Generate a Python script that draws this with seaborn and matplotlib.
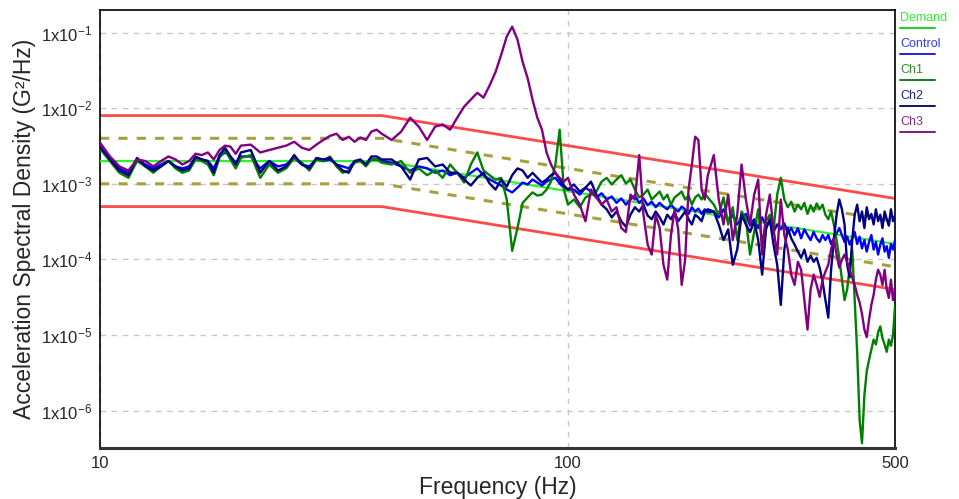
import pandas as pd
import matplotlib
matplotlib.use('Agg')
import matplotlib.pyplot as plt
from matplotlib.lines import Line2D
from matplotlib.ticker import FixedLocator, NullLocator, LogLocator, NullFormatter
import seaborn as sns

# --- Data ---
# Frequency lines shared by all measured channels (Hz)
freq_hz = [10, 10.5, 11, 11.5, 12, 12.5, 13, 13.5, 14, 14.5, 15, 15.5, 16, 16.5, 17, 17.5, 18, 18.5, 19, 19.5, 20,
           21, 22, 23, 24, 25, 26, 27, 28, 29, 30, 31, 32, 33, 34, 35, 36, 37, 38, 39, 40,
           42, 44, 46, 48, 50, 52, 54, 56, 58, 60, 62, 64, 66, 68, 70, 72, 74, 76, 78, 80,
           82, 84, 86, 88, 90, 92, 94, 96, 98, 100,
           103, 106, 109, 112, 115, 118, 121, 124, 127, 130, 133, 136, 139, 142, 145, 148, 151,
           154, 157, 160, 163, 166, 169, 172, 175, 178, 181, 184, 187, 190, 193, 196, 199,
           205, 210, 215, 220, 225, 230, 235, 240, 245, 250, 255, 260, 265, 270, 275, 280, 285, 290,
           295, 300, 305, 310, 315, 320, 325, 330, 335, 340, 345, 350, 355, 360, 365, 370, 375, 380,
           385, 390, 395, 400, 405, 410, 415, 420, 425, 430, 435, 440, 445, 450, 455, 460, 465, 470,
           475, 480, 485, 490, 495, 500]

# Demand profile and tolerance bands (G^2/Hz)
profile_freq = [10, 40, 500]
demand_psd = [2.0e-3, 2.0e-3, 1.6e-4]
abort_hi = [8.0e-3, 8.0e-3, 6.4e-4]
abort_lo = [5.0e-4, 5.0e-4, 4.0e-5]
alarm_hi = [4.0e-3, 4.0e-3, 3.2e-4]
alarm_lo = [1.0e-3, 1.0e-3, 8.0e-5]

control_psd = [3.0e-3, 2.1e-3, 1.6e-3, 1.4e-3, 2.1e-3, 1.8e-3, 1.6e-3, 1.8e-3, 2.0e-3, 1.7e-3,
               1.6e-3, 1.7e-3, 2.2e-3, 2.1e-3, 2.0e-3, 1.6e-3, 2.3e-3, 2.6e-3, 2.3e-3, 1.9e-3, 2.3e-3,
               2.3e-3, 1.6e-3, 2.0e-3, 1.7e-3, 1.8e-3, 2.2e-3, 1.8e-3, 1.7e-3, 2.1e-3, 2.0e-3,
               2.1e-3, 1.8e-3, 1.7e-3, 1.6e-3, 2.0e-3, 2.0e-3, 1.8e-3, 2.1e-3, 2.1e-3, 2.0e-3,
               1.9e-3, 1.7e-3, 1.5e-3, 1.7e-3, 1.6e-3, 1.4e-3, 1.5e-3, 1.3e-3, 1.4e-3, 1.2e-3,
               1.4e-3, 1.6e-3, 1.3e-3, 1.14e-3, 1.04e-3, 9.5e-4, 8.4e-4, 7.7e-4, 8.9e-4, 1.04e-3,
               9.8e-4, 1.14e-3, 1.04e-3, 9.5e-4, 1.07e-3, 1.14e-3, 1.2e-3, 1.01e-3, 8.9e-4, 8.4e-4,
               8.4e-4, 7.2e-4, 8.9e-4, 7.9e-4, 6.6e-4, 7.5e-4, 6.2e-4, 6.8e-4, 5.6e-4, 6.4e-4,
               5.3e-4, 6.2e-4, 7.0e-4, 5.6e-4, 6.4e-4, 5.2e-4, 5.8e-4, 4.9e-4, 5.6e-4, 5.0e-4,
               4.6e-4, 5.3e-4, 4.7e-4, 4.3e-4, 5.0e-4, 4.6e-4, 4.0e-4, 4.9e-4, 4.3e-4, 4.7e-4,
               4.0e-4, 4.6e-4, 4.2e-4,
               4.3e-4, 3.6e-4, 4.6e-4, 3.2e-4, 3.9e-4, 2.9e-4, 3.6e-4, 4.0e-4, 2.8e-4, 3.4e-4,
               2.6e-4, 3.6e-4, 2.8e-4, 3.2e-4, 2.3e-4, 2.9e-4, 2.5e-4, 3.0e-4, 2.2e-4, 2.6e-4,
               2.1e-4, 2.6e-4, 1.9e-4, 2.5e-4, 2.1e-4, 1.8e-4, 2.3e-4, 1.9e-4, 1.7e-4, 2.1e-4,
               1.8e-4, 2.1e-4, 1.6e-4, 1.9e-4, 2.2e-4, 2.6e-4, 2.1e-4, 1.7e-4, 2.0e-4, 1.57e-4,
               1.9e-4, 2.3e-4, 1.6e-4, 2.0e-4, 1.4e-4, 1.8e-4, 1.27e-4, 1.7e-4, 2.1e-4, 1.35e-4,
               1.7e-4, 1.16e-4, 1.57e-4, 1.9e-4, 1.27e-4, 1.5e-4, 1.05e-4, 1.6e-4, 1.35e-4, 1.8e-4]

ch1_psd = [2.9e-3, 2.0e-3, 1.4e-3, 1.2e-3, 2.0e-3, 1.7e-3, 1.4e-3, 1.7e-3, 2.0e-3, 1.6e-3,
           1.4e-3, 1.5e-3, 2.1e-3, 2.0e-3, 1.8e-3, 1.3e-3, 2.2e-3, 2.8e-3, 2.1e-3, 1.6e-3, 2.2e-3,
           2.4e-3, 1.2e-3, 1.8e-3, 1.4e-3, 1.6e-3, 2.2e-3, 1.9e-3, 1.5e-3, 2.1e-3, 2.0e-3,
           2.3e-3, 1.7e-3, 1.4e-3, 1.5e-3, 1.9e-3, 2.0e-3, 1.7e-3, 2.1e-3, 2.1e-3, 1.9e-3,
           1.8e-3, 2.0e-3, 1.4e-3, 1.6e-3, 1.3e-3, 1.5e-3, 1.2e-3, 1.8e-3, 1.4e-3, 1.04e-3,
           1.8e-3, 2.6e-3, 1.5e-3, 1.3e-3, 1.14e-3, 1.2e-3, 6.2e-4, 1.3e-4, 2.6e-4, 5.6e-4,
           6.6e-4, 7.7e-4, 7.0e-4, 7.2e-4, 8.4e-4, 1.07e-3, 1.8e-3, 5.2e-3, 8.4e-4, 5.3e-4,
           6.2e-4, 4.9e-4, 6.6e-4, 7.2e-4, 7.9e-4, 1.07e-3, 1.2e-3, 9.8e-4, 1.14e-3, 1.3e-3,
           1.01e-3, 1.14e-3, 8.4e-4, 6.6e-4, 7.2e-4, 8.4e-4, 6.2e-4, 7.0e-4, 7.9e-4, 6.2e-4,
           7.2e-4, 5.3e-4, 6.6e-4, 7.2e-4, 7.9e-4, 6.2e-4, 7.0e-4, 5.3e-4, 6.6e-4, 7.2e-4,
           6.2e-4, 7.5e-4, 6.6e-4,
           5.3e-4, 3.9e-4, 6.6e-4, 2.9e-4, 4.9e-4, 1.8e-4, 4.3e-4, 3.4e-4, 1.16e-4, 2.3e-4,
           4.6e-4, 1.57e-4, 3.2e-4, 3.9e-4, 2.5e-4, 7.2e-4, 1.2e-3, 6.2e-4, 4.9e-4, 5.8e-4,
           4.3e-4, 5.3e-4, 4.6e-4, 5.6e-4, 4.0e-4, 5.2e-4, 4.3e-4, 5.5e-4, 4.6e-4, 5.3e-4,
           3.9e-4, 3.4e-4, 4.3e-4, 2.9e-4, 1.8e-4, 1.05e-4, 5.4e-5, 2.9e-5, 4.0e-5, 7.8e-5,
           1.35e-4, 2.9e-5, 5.9e-6, 7.6e-7, 3.7e-7, 1.6e-6, 3.3e-6, 4.7e-6, 6.4e-6, 8.7e-6,
           7.5e-6, 1.08e-5, 1.3e-5, 9.1e-6, 7.5e-6, 6.0e-6, 8.7e-6, 7.2e-6, 1.0e-5, 2.4e-5]

ch2_psd = [3.1e-3, 2.1e-3, 1.5e-3, 1.3e-3, 2.2e-3, 1.7e-3, 1.5e-3, 1.7e-3, 2.0e-3, 1.7e-3,
           1.5e-3, 1.6e-3, 2.3e-3, 2.1e-3, 2.0e-3, 1.4e-3, 2.4e-3, 3.0e-3, 2.3e-3, 1.8e-3, 2.6e-3,
           2.8e-3, 1.4e-3, 2.0e-3, 1.5e-3, 1.7e-3, 2.4e-3, 1.8e-3, 1.6e-3, 2.2e-3, 2.1e-3,
           2.2e-3, 1.8e-3, 1.5e-3, 1.4e-3, 2.0e-3, 2.1e-3, 1.8e-3, 2.3e-3, 2.3e-3, 2.1e-3,
           2.1e-3, 1.7e-3, 1.14e-3, 2.1e-3, 2.2e-3, 1.7e-3, 1.8e-3, 1.4e-3, 1.4e-3, 1.14e-3,
           9.5e-4, 1.2e-3, 1.4e-3, 1.01e-3, 8.4e-4, 1.14e-3, 9.2e-4, 1.3e-3, 1.6e-3, 1.5e-3,
           1.2e-3, 1.4e-3, 1.2e-3, 1.04e-3, 1.14e-3, 1.3e-3, 1.4e-3, 1.14e-3, 9.5e-4, 8.4e-4,
           9.8e-4, 7.9e-4, 8.9e-4, 1.07e-3, 7.2e-4, 5.3e-4, 4.6e-4, 3.6e-4, 4.3e-4, 3.2e-4,
           2.7e-4, 3.9e-4, 4.9e-4, 4.3e-4, 5.3e-4, 3.8e-4, 3.4e-4, 4.3e-4, 3.6e-4, 2.9e-4,
           3.9e-4, 3.4e-4, 4.2e-4, 3.2e-4, 3.7e-4, 4.3e-4, 3.4e-4, 2.9e-4, 3.9e-4, 3.6e-4,
           3.2e-4, 4.3e-4, 4.6e-4,
           4.3e-4, 2.9e-4, 1.8e-4, 2.5e-4, 8.5e-5, 1.35e-4, 3.9e-4, 2.9e-4, 2.3e-4, 3.2e-4,
           1.8e-4, 6.3e-5, 2.5e-4, 3.4e-4, 1.57e-4, 8.5e-5, 2.5e-5, 1.35e-4, 2.6e-4, 1.9e-4,
           1.57e-4, 1.27e-4, 1.05e-4, 1.35e-4, 9.3e-5, 1.12e-4, 9.3e-5, 1.05e-4, 7.8e-5, 5.1e-5,
           2.9e-5, 1.7e-5, 7.3e-5, 1.8e-4, 3.9e-4, 6.2e-4, 4.6e-4, 2.9e-4, 8.5e-5, 5.8e-5,
           1.8e-4, 3.9e-4, 5.3e-4, 3.2e-4, 4.3e-4, 2.6e-4, 4.9e-4, 3.4e-4, 4.0e-4, 2.9e-4,
           4.6e-4, 3.2e-4, 3.9e-4, 2.6e-4, 4.3e-4, 3.4e-4, 2.8e-4, 4.6e-4, 3.2e-4, 3.8e-4]

ch3_psd = [3.5e-3, 2.3e-3, 1.7e-3, 1.5e-3, 2.1e-3, 2.0e-3, 1.7e-3, 2.0e-3, 2.3e-3, 2.1e-3,
           1.8e-3, 2.0e-3, 2.5e-3, 2.4e-3, 2.6e-3, 2.1e-3, 2.8e-3, 3.2e-3, 3.1e-3, 2.5e-3, 3.2e-3,
           3.3e-3, 2.6e-3, 2.8e-3, 3.0e-3, 3.2e-3, 3.6e-3, 3.0e-3, 2.8e-3, 3.3e-3, 3.8e-3,
           4.3e-3, 4.6e-3, 3.8e-3, 4.2e-3, 3.6e-3, 4.1e-3, 3.8e-3, 4.9e-3, 5.2e-3, 4.6e-3,
           3.8e-3, 4.9e-3, 7.5e-3, 5.7e-3, 3.8e-3, 5.7e-3, 6.1e-3, 5.2e-3, 7.5e-3, 1.05e-2,
           1.3e-2, 1.6e-2, 1.38e-2, 2.0e-2, 3.0e-2, 5.1e-2, 8.9e-2, 1.2e-1, 8.1e-2, 4.1e-2,
           2.5e-2, 1.3e-2, 7.5e-3, 5.2e-3, 2.6e-3, 1.8e-3, 1.4e-3, 1.2e-3, 1.07e-3, 1.2e-3,
           7.2e-4, 5.3e-4, 3.2e-4, 8.4e-4, 6.6e-4, 5.3e-4, 6.2e-4, 4.3e-4, 4.9e-4, 2.6e-4,
           2.3e-4, 7.2e-4, 6.2e-4, 2.4e-3, 3.9e-4, 1.57e-4, 1.16e-4, 3.9e-4, 2.6e-4, 8.5e-5,
           5.4e-5, 2.1e-4, 4.6e-4, 2.5e-4, 4.6e-5, 9.9e-5, 8.4e-4, 1.8e-3, 4.2e-3, 3.8e-3,
           8.4e-4, 6.2e-4, 1.3e-3,
           2.4e-3, 6.2e-4, 2.9e-4, 7.2e-4, 1.8e-4, 3.9e-4, 1.8e-3, 6.2e-4, 2.9e-4, 7.2e-4,
           1.14e-3, 1.16e-4, 3.9e-4, 7.2e-4, 2.5e-4, 1.16e-4, 6.2e-4, 2.1e-4, 1.35e-4, 6.3e-5,
           4.6e-5, 9.3e-5, 7.3e-5, 2.9e-5, 1.18e-5, 4.0e-5, 6.3e-5, 4.6e-5, 3.2e-5, 5.4e-5,
           6.9e-5, 8.5e-5, 1.35e-4, 1.9e-4, 1.16e-4, 7.8e-5, 9.9e-5, 1.16e-4, 9.3e-5, 7.3e-5,
           5.8e-5, 4.6e-5, 3.4e-5, 2.7e-5, 1.9e-5, 1.18e-5, 9.4e-6, 1.6e-5, 2.5e-5, 3.4e-5,
           5.4e-5, 7.3e-5, 6.3e-5, 4.6e-5, 7.3e-5, 4.0e-5, 3.1e-5, 5.4e-5, 2.9e-5, 4.0e-5]

y_ticks = [1e-6, 1e-5, 1e-4, 1e-3, 1e-2, 1e-1]
y_tick_labels = [r'1x10$^{-6}$', r'1x10$^{-5}$', r'1x10$^{-4}$',
                 r'1x10$^{-3}$', r'1x10$^{-2}$', r'1x10$^{-1}$']
x_ticks = [10, 100, 500]
x_tick_labels = ['10', '100', '500']

legend_names = ['Demand', 'Control', 'Ch1', 'Ch2', 'Ch3']
legend_text_colors = ['#33ee33', '#3838f0', '#2e8b2e', '#22227a', '#8e2a8e']
legend_line_colors = ['#22cc22', '#2020e0', '#1a7a1a', '#101070', '#801880']


def make_plot():
    sns.set_style('white')
    plt.rcParams['font.family'] = ['Liberation Sans', 'DejaVu Sans']
    plt.rcParams['mathtext.default'] = 'regular'

    fig = plt.figure(figsize=(9.59, 4.99), dpi=100)
    ax = fig.add_axes([0.1043, 0.1022, 0.829, 0.878])
    ax.set_xscale('log')
    ax.set_yscale('log')

    prof = pd.DataFrame({'freq': profile_freq, 'demand': demand_psd,
                         'abort_hi': abort_hi, 'abort_lo': abort_lo,
                         'alarm_hi': alarm_hi, 'alarm_lo': alarm_lo})
    meas = pd.DataFrame({'freq': freq_hz, 'Control': control_psd, 'Ch1': ch1_psd,
                         'Ch2': ch2_psd, 'Ch3': ch3_psd})

    # tolerance bands
    for col in ['abort_hi', 'abort_lo']:
        sns.lineplot(data=prof, x='freq', y=col, ax=ax, color='#ff4a4a', lw=2.0, zorder=2)
    for col in ['alarm_hi', 'alarm_lo']:
        sns.lineplot(data=prof, x='freq', y=col, ax=ax, color='#a8a040', lw=2.2,
                     zorder=2).lines[-1].set_dashes((3, 3))
    sns.lineplot(data=prof, x='freq', y='demand', ax=ax, color='#33ee33', lw=1.6, zorder=3)

    # measured channels
    styles = [('Control', '#0000ff'), ('Ch1', '#008000'), ('Ch2', '#000080'), ('Ch3', '#800080')]
    for i, (name, color) in enumerate(styles):
        sns.lineplot(data=meas, x='freq', y=name, ax=ax, color=color, lw=1.7, zorder=4 + i)

    ax.set_xlim(10, 500)
    ax.set_ylim(3.2e-7, 0.2)

    ax.xaxis.set_major_locator(FixedLocator(x_ticks))
    ax.set_xticklabels(x_tick_labels)
    ax.xaxis.set_minor_locator(NullLocator())
    ax.yaxis.set_major_locator(FixedLocator(y_ticks))
    ax.set_yticklabels(y_tick_labels)
    ax.yaxis.set_minor_locator(LogLocator(base=10, subs=range(2, 10), numticks=20))
    ax.yaxis.set_minor_formatter(NullFormatter())

    ax.tick_params(axis='y', which='major', direction='out', length=4, width=1,
                   labelsize=12, pad=2)
    ax.tick_params(axis='y', which='minor', direction='in', length=3, width=0.8)
    ax.tick_params(axis='x', which='major', direction='out', length=0, labelsize=12, pad=6)

    ax.grid(True, which='major', color='#c8c8c8', linestyle=(0, (4, 4)), lw=1)
    for side in ['left', 'top', 'right']:
        ax.spines[side].set_color('black')
        ax.spines[side].set_linewidth(1.2)
    ax.spines['bottom'].set_color('#333333')
    ax.spines['bottom'].set_linewidth(2.2)

    ax.set_xlabel('Frequency (Hz)', fontsize=16.5, labelpad=3)
    ax.set_ylabel('Acceleration Spectral Density (G²/Hz)', fontsize=16.5, labelpad=3)

    # legend: coloured names with a short line underneath, outside right of the plot
    for i, name in enumerate(legend_names):
        y_top = 0.964 - i * 0.052
        fig.text(0.9385, y_top, name, color=legend_text_colors[i], fontsize=9,
                 ha='left', va='center')
        fig.add_artist(Line2D([0.9385, 0.975], [y_top - 0.02, y_top - 0.02],
                              color=legend_line_colors[i], lw=1.4,
                              transform=fig.transFigure))

    fig.savefig('out.png', dpi=100)
    plt.close(fig)


if __name__ == '__main__':
    make_plot()
